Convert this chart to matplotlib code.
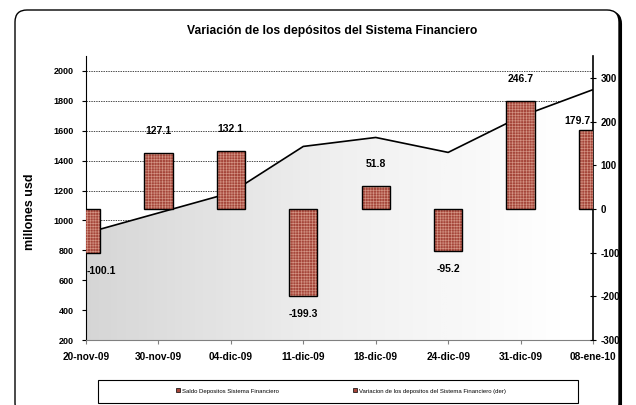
import numpy as np
import matplotlib
matplotlib.use('Agg')
import matplotlib.pyplot as plt
from matplotlib.patches import FancyBboxPatch, Patch, Rectangle
from matplotlib.transforms import IdentityTransform

plt.rcParams['font.family'] = ['Liberation Sans', 'DejaVu Sans']
plt.rcParams['axes.unicode_minus'] = False
plt.rcParams['hatch.linewidth'] = 0.45

# datos
fechas = ['20-nov-09', '30-nov-09', '04-dic-09', '11-dic-09',
          '18-dic-09', '24-dic-09', '31-dic-09', '08-ene-10']
saldo = [915, 1050, 1185, 1495, 1555, 1455, 1695, 1875]
variacion = [-100.1, 127.1, 132.1, -199.3, 51.8, -95.2, 246.7, 179.7]

x = np.arange(len(fechas))
color_barra = '#a5463a'

fig = plt.figure(figsize=(6.36, 4.05), dpi=100)

# marco redondeado exterior
sombra = FancyBboxPatch((17, -12), 604, 405, boxstyle='round,pad=0,rounding_size=12',
                        transform=IdentityTransform(), facecolor='black', edgecolor='black',
                        lw=1.5, zorder=-2)
marco = FancyBboxPatch((15, -10), 604, 405, boxstyle='round,pad=0,rounding_size=12',
                       transform=IdentityTransform(), facecolor='white', edgecolor='black',
                       lw=1.0, zorder=-1)
fig.patches.extend([sombra, marco])

ax1 = fig.add_axes([86 / 636, 1 - 340 / 405, (593 - 86) / 636, (340 - 56) / 405])
ax1.patch.set_alpha(0)

# area con degradado
poly = ax1.fill_between(x, 200, saldo, facecolor='none', edgecolor='none', zorder=2)
grad = np.linspace(0, 1, 256).reshape(1, -1)
img = ax1.imshow(grad, extent=[0, 7, 200, 2100], aspect='auto', cmap='Greys_r',
                 vmin=-2.6, vmax=0.95, zorder=2, interpolation='bilinear')
img.set_clip_path(poly.get_paths()[0], transform=ax1.transData)
ax1.plot(x, saldo, color='black', lw=1.2, zorder=3)

ax1.set_xlim(0, 7)
ax1.set_ylim(200, 2100)
ax1.set_yticks(range(200, 2001, 200))
ax1.grid(axis='y', color='black', linestyle=(0, (2, 1.5)), lw=0.5, zorder=1)
ax1.set_axisbelow(True)
ax1.set_xticks(x)
ax1.set_xticklabels(fechas, fontsize=7.3, fontweight='bold')
ax1.tick_params(axis='y', labelsize=6.5, length=3, direction='out', pad=6)
ax1.tick_params(axis='x', length=3, direction='out', pad=6, color='gray')
for lab in ax1.get_yticklabels():
    lab.set_fontweight('bold')
ax1.spines['top'].set_visible(False)
ax1.spines['right'].set_visible(False)
ax1.spines['bottom'].set_color('gray')
fig.text(30 / 636, 1 - 212 / 405, 'millones usd', rotation=90, ha='center', va='center',
         fontsize=9, fontweight='bold')

# barras de variacion (eje derecho)
ax2 = ax1.twinx()
ax2.bar(x, variacion, width=0.39, color=color_barra, edgecolor='#d49484',
        hatch='++++++', lw=0, zorder=3)
ax2.bar(x, variacion, width=0.39, fill=False, edgecolor='black', lw=1.0, zorder=4)
ax2.set_ylim(-300, 350)
ax2.set_yticks(range(-300, 301, 100))
ax2.tick_params(axis='y', labelsize=7, length=5, direction='inout', pad=3)
for lab in ax2.get_yticklabels():
    lab.set_fontweight('bold')
for s in ['top', 'left', 'bottom']:
    ax2.spines[s].set_visible(False)
ax2.spines['right'].set_linewidth(1.2)

for i, v in enumerate(variacion):
    dx = 0
    dy = 16 if v > 0 else -13
    if i == 0:
        dx = 11
    if i == len(variacion) - 1:
        dx = -11
        dy = 7
    ax2.annotate(f'{v:.1f}', (x[i], v), xytext=(dx, dy), textcoords='offset points',
                 ha='center', va='center', fontsize=7.5, fontweight='bold', zorder=5)

fig.text(332 / 636, 1 - 31 / 405, 'Variación de los depósitos del Sistema Financiero',
         ha='center', va='center', fontsize=8.7, fontweight='bold')

# leyenda
caja = Rectangle((98, 405 - 403), 480, 23, transform=IdentityTransform(),
                 facecolor='white', edgecolor='black', lw=0.8)
fig.patches.append(caja)
handles = [Patch(facecolor=color_barra, edgecolor='black', lw=0.5),
           Patch(facecolor=color_barra, edgecolor='black', lw=0.5)]
labels = ['Saldo Depositos Sistema Financiero',
          'Variacion de los depositos del Sistema Financiero (der)']
fig.legend(handles, labels, loc='center', ncol=2, fontsize=4.3,
           bbox_to_anchor=(341 / 636, 1 - 391 / 405), frameon=False,
           handlelength=0.6, handleheight=0.6, handletextpad=0.3, columnspacing=12.5)

fig.savefig('out.png', dpi=100)
